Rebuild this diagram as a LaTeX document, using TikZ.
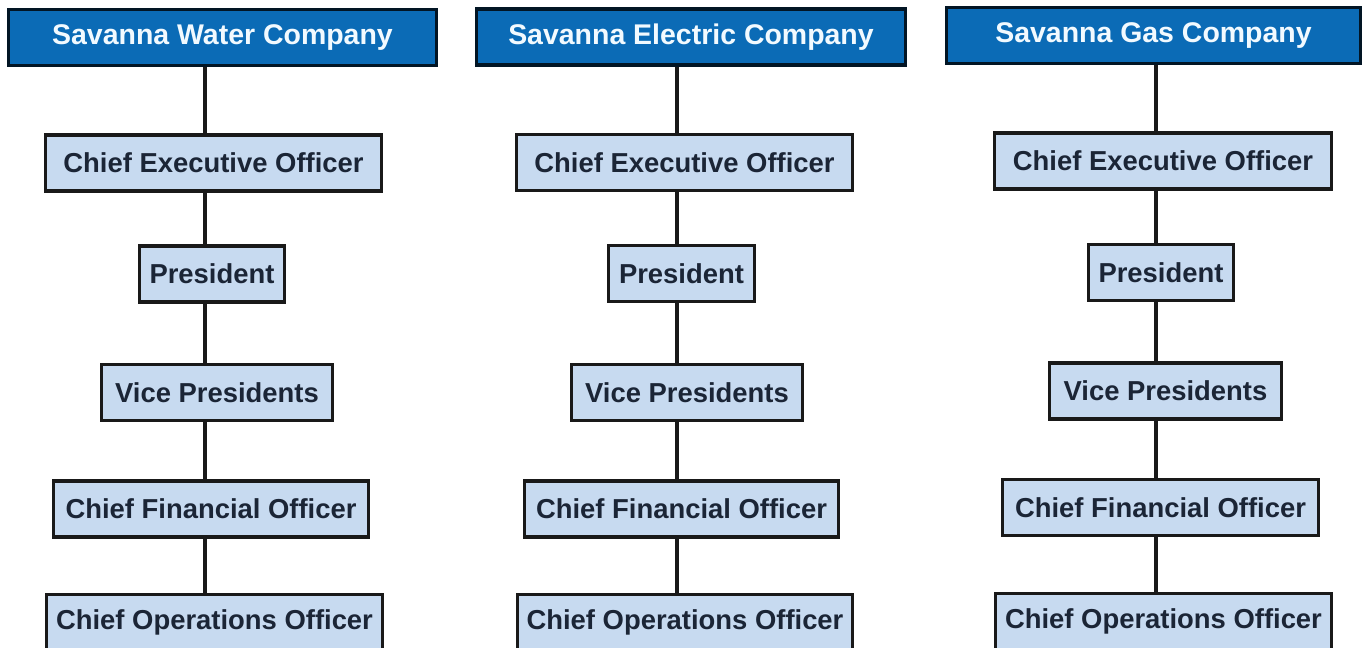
\documentclass[tikz,border=0pt]{standalone}
\usepackage{fontspec}
\setmainfont{Liberation Sans}
\usepackage{tikz}

\definecolor{hdrblue}{HTML}{0B6BB6}
\definecolor{boxfill}{HTML}{C7DAF0}
\definecolor{boxtext}{HTML}{1B2536}
\definecolor{hdrtext}{HTML}{F2FAFF}

\begin{document}
\begin{tikzpicture}[
    font=\fontsize{7.8}{9}\selectfont\bfseries,
    box/.style={draw=black!90, line width=1.05pt, fill=boxfill, text=boxtext,
      inner sep=0pt, minimum height=0.56cm},
    hdr/.style={box, fill=hdrblue, draw=black!80!hdrblue, text=hdrtext,
      font=\fontsize{8.1}{9}\selectfont\bfseries},
    link/.style={black!90, line width=1.1pt}]
  \useasboundingbox (0,0) rectangle (13.67,-6.48);
  % water
  \coordinate (lineA) at (2.05,0);
  \node [hdr, minimum width=4.28cm] at (2.225,-0.375) (hdrA) {Savanna Water Company};
  \node [box, minimum width=3.36cm] at (2.135,-1.63) (ceoA) {Chief Executive Officer};
  \node [box, minimum width=1.45cm] at (2.12,-2.74) (presA) {President};
  \node [box, minimum width=2.31cm] at (2.17,-3.925) (vpA) {Vice Presidents};
  \node [box, minimum width=3.15cm] at (2.11,-5.09) (cfoA) {Chief Financial Officer};
  \node [box, minimum width=3.36cm] at (2.145,-6.225) (cooA) {Chief Operations Officer};
  \draw [link] (hdrA.south -| lineA) -- (ceoA.north -| lineA);
  \draw [link] (ceoA.south -| lineA) -- (presA.north -| lineA);
  \draw [link] (presA.south -| lineA) -- (vpA.north -| lineA);
  \draw [link] (vpA.south -| lineA) -- (cfoA.north -| lineA);
  \draw [link] (cfoA.south -| lineA) -- (cooA.north -| lineA);
  % electric
  \coordinate (lineB) at (6.77,0);
  \node [hdr, minimum width=4.29cm] at (6.91,-0.37) (hdrB) {Savanna Electric Company};
  \node [box, minimum width=3.36cm] at (6.845,-1.625) (ceoB) {Chief Executive Officer};
  \node [box, minimum width=1.46cm] at (6.815,-2.735) (presB) {President};
  \node [box, minimum width=2.31cm] at (6.87,-3.925) (vpB) {Vice Presidents};
  \node [box, minimum width=3.14cm] at (6.815,-5.09) (cfoB) {Chief Financial Officer};
  \node [box, minimum width=3.35cm] at (6.85,-6.225) (cooB) {Chief Operations Officer};
  \draw [link] (hdrB.south -| lineB) -- (ceoB.north -| lineB);
  \draw [link] (ceoB.south -| lineB) -- (presB.north -| lineB);
  \draw [link] (presB.south -| lineB) -- (vpB.north -| lineB);
  \draw [link] (vpB.south -| lineB) -- (cfoB.north -| lineB);
  \draw [link] (cfoB.south -| lineB) -- (cooB.north -| lineB);
  % gas
  \coordinate (lineC) at (11.56,0);
  \node [hdr, minimum width=4.14cm] at (11.535,-0.355) (hdrC) {Savanna Gas Company};
  \node [box, minimum width=3.37cm] at (11.63,-1.61) (ceoC) {Chief Executive Officer};
  \node [box, minimum width=1.45cm] at (11.61,-2.725) (presC) {President};
  \node [box, minimum width=2.32cm] at (11.655,-3.91) (vpC) {Vice Presidents};
  \node [box, minimum width=3.16cm] at (11.605,-5.075) (cfoC) {Chief Financial Officer};
  \node [box, minimum width=3.36cm] at (11.635,-6.215) (cooC) {Chief Operations Officer};
  \draw [link] (hdrC.south -| lineC) -- (ceoC.north -| lineC);
  \draw [link] (ceoC.south -| lineC) -- (presC.north -| lineC);
  \draw [link] (presC.south -| lineC) -- (vpC.north -| lineC);
  \draw [link] (vpC.south -| lineC) -- (cfoC.north -| lineC);
  \draw [link] (cfoC.south -| lineC) -- (cooC.north -| lineC);
\end{tikzpicture}
\end{document}
